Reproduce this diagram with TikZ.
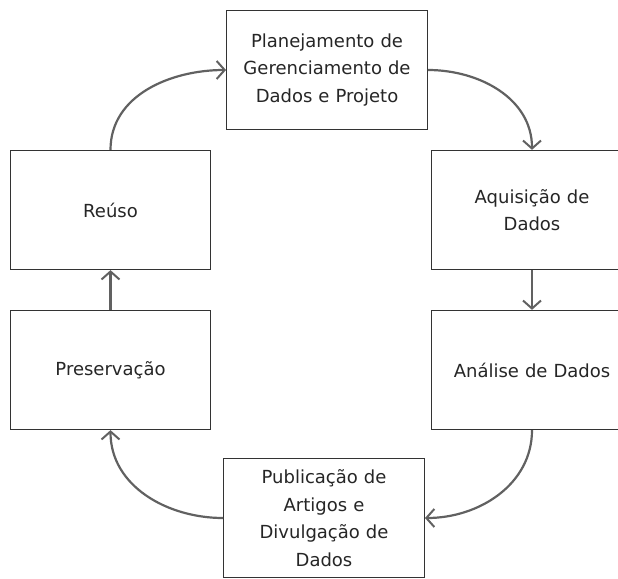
\documentclass[tikz,border=0pt]{standalone}
\usepackage{fontspec}
\setmainfont{DejaVu Sans}
\usetikzlibrary{arrows.meta}

\tikzset{
  etapa/.style={draw=black!80, line width=1.3pt, fill=white, minimum width=197pt,
    minimum height=119pt, text width=194pt, align=center, font=\fontsize{18}{27.5}\selectfont,
    text=black!85},
  seta/.style={draw=black!62, line width=2.2pt,
    -{Straight Barb[length=8pt,width=18pt,line width=2pt]}}
}

\begin{document}
\begin{tikzpicture}[x=1pt,y=-1pt]
\useasboundingbox (0,0) rectangle (618,578);

\node [etapa] (plan) at (327,70) {Planejamento de\\Gerenciamento de\\Dados e Projeto};
\node [etapa] (aquis) at (532,210) {Aquisição de\\Dados};
\node [etapa] (anal) at (532,370) {Análise de Dados};
\node [etapa] (publ) at (324,518) {Publicação de\\Artigos e\\Divulgação de\\Dados};
\node [etapa] (pres) at (110.5,370) {Preservação};
\node [etapa] (reuso) at (110.5,210) {Reúso};

% ciclo
\draw [seta] (plan.east) to[out=0,in=90] (aquis.north);
\draw [seta] (aquis.south) -- (anal.north);
\draw [seta] (anal.south) to[out=-90,in=0] (publ.east);
\draw [seta] (publ.west) to[out=180,in=-90] (pres.south);
\draw [seta] (pres.north) -- (reuso.south);
\draw [seta] (reuso.north) to[out=90,in=180] (plan.west);
\end{tikzpicture}
\end{document}
